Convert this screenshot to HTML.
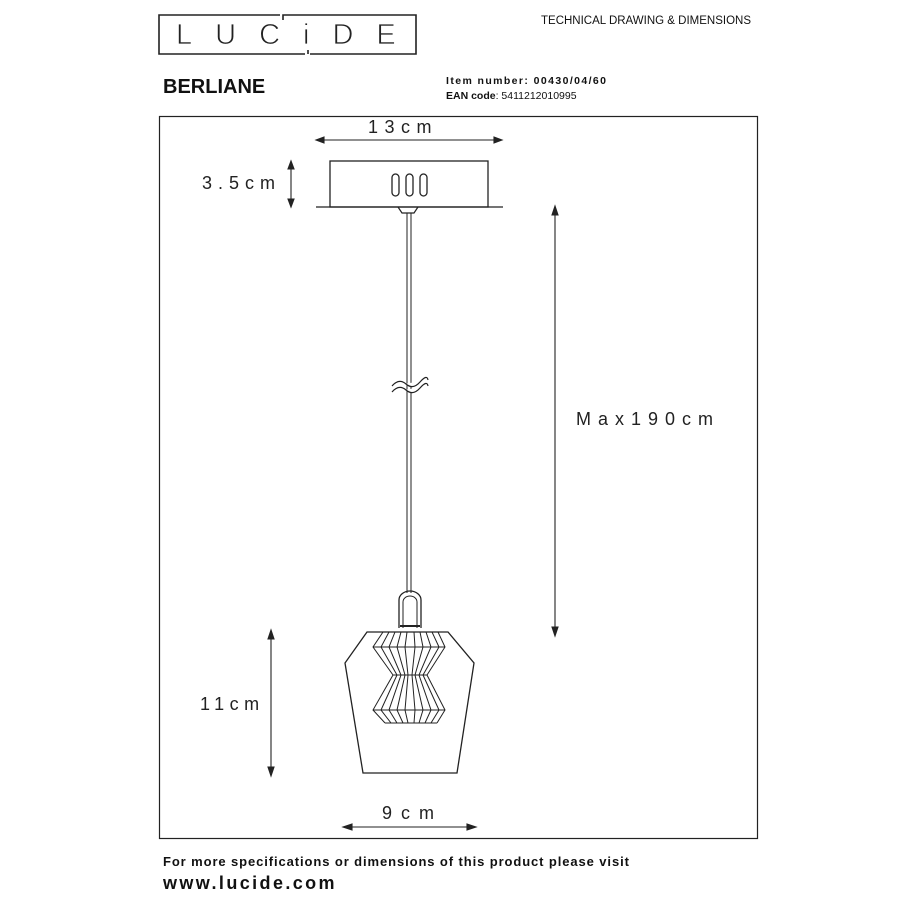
<!DOCTYPE html>
<html><head><meta charset="utf-8"><style>
body{margin:0;width:910px;height:910px;background:#fff;overflow:hidden;position:relative;font-family:"Liberation Sans",sans-serif;color:#111}
.t{position:absolute;white-space:nowrap}
.d{font-size:18px;color:#222}
</style></head><body>
<svg width="910" height="910" style="position:absolute;left:0;top:0" fill="none" stroke="#222">
<path d="M280 15 H159 V54 H305 M308 54 V50 M310 54 H416 V15 H283 V20" stroke-width="1.6"/>
<rect x="159.5" y="116.5" width="598" height="722" stroke-width="1.2"/>
<rect x="330" y="161" width="158" height="46" stroke-width="1.3"/>
<line x1="316" y1="207" x2="503" y2="207" stroke-width="1.3"/>
<rect x="392" y="174" width="7" height="22" rx="3.5" stroke-width="1.3"/>
<rect x="406" y="174" width="7" height="22" rx="3.5" stroke-width="1.3"/>
<rect x="420" y="174" width="7" height="22" rx="3.5" stroke-width="1.3"/>
<path d="M398 207 L402 213 H414 L418 207" stroke-width="1.2"/>
<path d="M407 213 V593 M411 213 V593" stroke-width="1"/>
<path d="M392 386 q7 -8 14 -2 t14 -2 t8 -2 M392 392 q7 -8 14 -2 t14 -2 t8 -2" stroke-width="1.2" fill="#fff"/>
<path d="M399 628 V600 a11 9 0 0 1 22 0 V628" stroke-width="1.3"/>
<path d="M403 628 V602 a7 6 0 0 1 14 0 V628" stroke-width="1"/>
<line x1="400" y1="626" x2="420" y2="626" stroke-width="2"/>
<path d="M367 632 H448 L474 663 L457 773 H363 L345 663 Z" stroke-width="1.3"/>
<g stroke-width="1">
<path d="M383 632 L373 647 L393 675 L373 710 L385 723"/><path d="M438 632 L445 647 L427 675 L445 710 L437 723"/>
<path d="M389 632 L381 647 L397 675 L381 710 L391 723"/><path d="M432 632 L439 647 L423 675 L439 710 L431 723"/>
<path d="M395 632 L389 647 L401 675 L389 710 L397 723"/><path d="M426 632 L431 647 L419 675 L431 710 L425 723"/>
<path d="M401 632 L397 647 L405 675 L397 710 L403 723"/><path d="M420 632 L423 647 L415 675 L423 710 L419 723"/>
<path d="M407 632 L405 647 L408 675 L405 710 L408 723"/><path d="M414 632 L415 647 L412 675 L415 710 L414 723"/>
<path d="M373 647 H445 M393 675 H427 M373 710 H445 M385 723 H437 M383 632 H438"/>
</g>
<g stroke-width="1.1" fill="#222">
<line x1="318" y1="140" x2="500" y2="140"/><path d="M316 140 l8 -3 v6z M502 140 l-8 -3 v6z"/>
<line x1="291" y1="163" x2="291" y2="205"/><path d="M291 161 l-3 8 h6z M291 207 l-3 -8 h6z"/>
<line x1="555" y1="208" x2="555" y2="634"/><path d="M555 206 l-3 9 h6z M555 636 l-3 -9 h6z"/>
<line x1="271" y1="632" x2="271" y2="774"/><path d="M271 630 l-3 9 h6z M271 776 l-3 -9 h6z"/>
<line x1="345" y1="827" x2="474" y2="827"/><path d="M343 827 l9 -3 v6z M476 827 l-9 -3 v6z"/>
</g>
</svg>
<div class="t" style="left:176px;top:19px;font-size:29px;letter-spacing:23px;color:#222;-webkit-text-stroke:0.8px #fff">LUCiDE</div>
<div class="t" style="left:541px;top:15px;font-size:11.5px">TECHNICAL DRAWING &amp; DIMENSIONS</div>
<div class="t" style="left:163px;top:76px;font-size:20px;font-weight:bold">BERLIANE</div>
<div class="t" style="left:446px;top:75px;font-size:10.5px;font-weight:bold;letter-spacing:1.4px">Item number: 00430/04/60</div>
<div class="t" style="left:446px;top:90px;font-size:10.5px"><b>EAN code</b>: 5411212010995</div>
<div class="t d" style="left:368px;top:117px;letter-spacing:6.5px">13cm</div>
<div class="t d" style="left:202px;top:173px;letter-spacing:6px">3.5cm</div>
<div class="t d" style="left:576px;top:409px;letter-spacing:7px">Max190cm</div>
<div class="t d" style="left:200px;top:694px;letter-spacing:5.5px">11cm</div>
<div class="t d" style="left:382px;top:803px;letter-spacing:9px">9cm</div>
<div class="t" style="left:163px;top:854px;font-size:13px;font-weight:bold;letter-spacing:0.9px">For more specifications or dimensions of this product please visit</div>
<div class="t" style="left:163px;top:873px;font-size:18px;font-weight:bold;letter-spacing:2.4px">www.lucide.com</div>
</body></html>
